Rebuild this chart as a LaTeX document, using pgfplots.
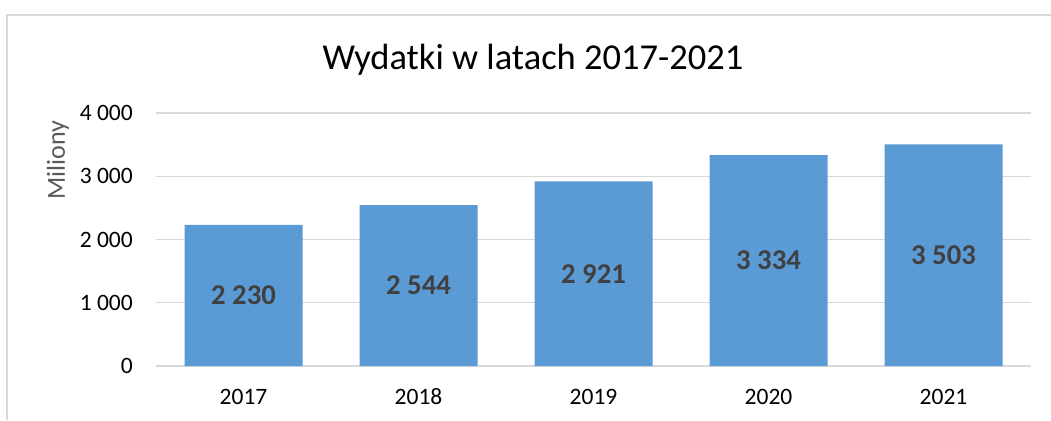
\documentclass[border=0pt]{standalone}
\usepackage{pgfplots}
\pgfplotsset{compat=1.18}
\usepackage{fontspec}
\setmainfont{Carlito}
\definecolor{barblue}{HTML}{5B9BD5}
\definecolor{gridgray}{HTML}{D9D9D9}
\definecolor{labgray}{HTML}{404040}
\definecolor{axgray}{HTML}{595959}
\begin{document}
\begin{tikzpicture}
\path[use as bounding box] (0pt,0pt) rectangle (1051pt,-420pt);
\draw[gridgray, line width=1.5pt] (7pt,-420pt) -- (7pt,-15pt) -- (1051pt,-15pt);
\node[anchor=center, font=\fontsize{36.5}{44}\selectfont, text=black] at (533pt,-60pt) {Wydatki w latach 2017-2021};
\node[rotate=90, anchor=center, font=\fontsize{26}{31}\selectfont, text=axgray] at (58pt,-160pt) {Miliony};
\begin{axis}[
  at={(156pt,-366pt)}, anchor=south west,
  scale only axis, width=875pt, height=253pt,
  xmin=-0.5, xmax=4.5, ymin=0, ymax=4000,
  xtick=data, xticklabels={2017,2018,2019,2020,2021},
  ytick={0,1000,2000,3000,4000},
  major tick length=0pt,
  axis line style={draw=none},
  ymajorgrids, grid style={gridgray, line width=1.3pt},
  /pgf/number format/.cd, 1000 sep={\ }, assume math mode=true, /pgfplots/.cd,
  ticklabel style={font=\fontsize{23.5}{28}\selectfont, text=black},
  yticklabel style={inner sep=0pt, anchor=east, xshift=-23pt},
  xticklabel style={inner sep=0pt, anchor=center, yshift=-31pt},
  ybar, bar width=118pt,
  visualization depends on=y \as \rawy,
  nodes near coords,
  every node near coord/.append style={anchor=center, inner sep=0pt, shift={(axis direction cs:0,-\rawy/2)}, font=\fontsize{28.7}{34}\selectfont\bfseries, text=labgray},
]
\addplot[fill=barblue, draw=none] coordinates {(0,2230) (1,2544) (2,2921) (3,3334) (4,3503)};
\end{axis}
\end{tikzpicture}
\end{document}
